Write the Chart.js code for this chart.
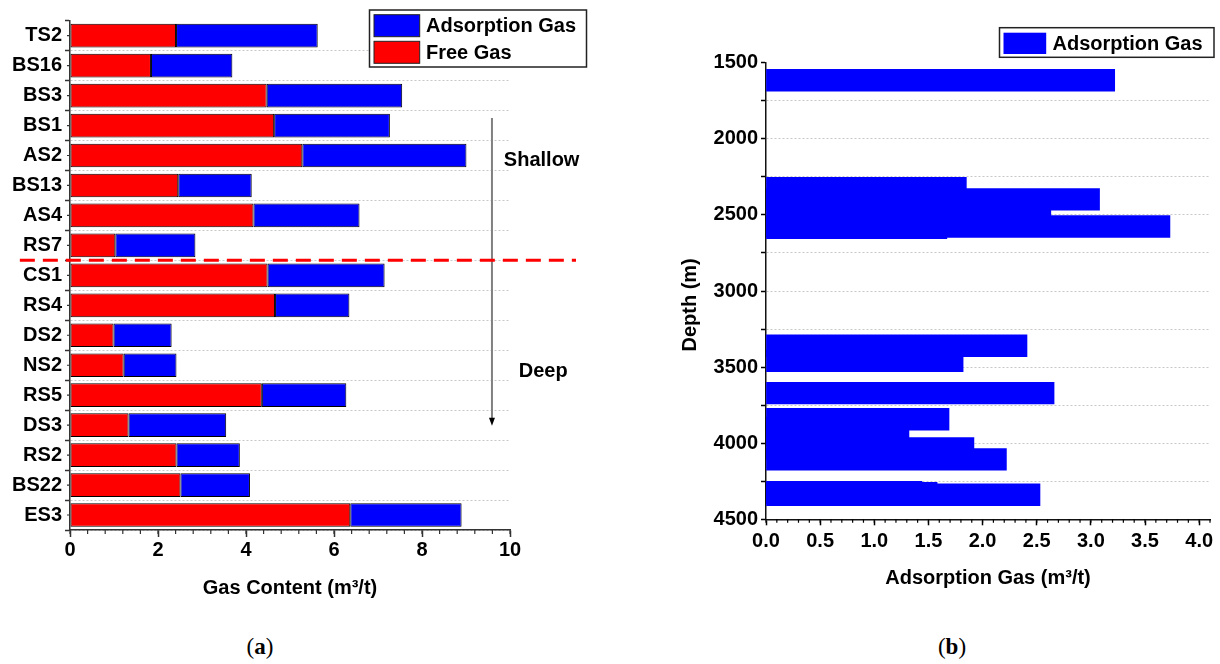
<!DOCTYPE html>
<html><head><meta charset="utf-8">
<script src="https://cdn.jsdelivr.net/npm/chart.js@4"></script>
<style>
html,body{margin:0;padding:0;background:#fff;}
body{width:1220px;height:664px;position:relative;overflow:hidden;}
#wa{position:absolute;left:0;top:0;width:620px;height:620px;}
#wb{position:absolute;left:620px;top:0;width:600px;height:600px;}
.cap{position:absolute;top:633px;line-height:28px;font-family:"Liberation Serif","DejaVu Serif",serif;font-size:23px;color:#000;transform:translateX(-50%);}
</style></head>
<body>
<div id="wa"><canvas id="ca"></canvas></div>
<div id="wb"><canvas id="cb"></canvas></div>
<div class="cap" style="left:260px">(<b>a</b>)</div>
<div class="cap" style="left:952px">(<b>b</b>)</div>
<script>
// ---- data ----
const samples = ['TS2','BS16','BS3','BS1','AS2','BS13','AS4','RS7','CS1','RS4','DS2','NS2','RS5','DS3','RS2','BS22','ES3'];
const freeGas = [2.41,1.84,4.47,4.64,5.28,2.46,4.17,1.03,4.49,4.66,0.99,1.22,4.36,1.33,2.42,2.51,6.37];
const adsorptionGas = [3.22,1.85,3.08,2.63,3.73,1.67,2.41,1.82,2.66,1.69,1.32,1.20,1.92,2.22,1.44,1.58,2.53];
const depths = [1615,2324,2398,2470,2576,2585,3360,3459,3671,3843,3900,3950,4035,4106,4322,4328,4339];
const legendA = ['Adsorption Gas','Free Gas'];
const legendB = ['Adsorption Gas'];
const zoneLabels = ['Shallow','Deep'];

const FONT = '"Liberation Sans", Arial, sans-serif';
Chart.defaults.font.family = FONT;
Chart.defaults.color = '#000';
const RED = '#ff0000', BLUE = '#0000ff';

const minorTicks = {
  id: 'minorTicks',
  afterDraw(chart, args, opts) {
    const ctx = chart.ctx;
    ctx.save();
    ctx.strokeStyle = opts.color || '#000';
    ctx.lineWidth = opts.width || 1;
    ctx.beginPath();
    for (const a of (opts.axes || [])) {
      const s = chart.scales[a.id];
      const pix = [];
      if (a.centers) { s.getLabels().forEach((l, i) => pix.push(s.getPixelForValue(i))); }
      else {
        const n = Math.round((s.max - s.min) / a.step);
        for (let k = 0; k <= n; k++) pix.push(s.getPixelForValue(s.min + k * a.step));
      }
      for (const p of pix) {
        if (s.isHorizontal()) { ctx.moveTo(p, s.top); ctx.lineTo(p, s.top + a.len); }
        else { ctx.moveTo(s.right, p); ctx.lineTo(s.right - a.len, p); }
      }
    }
    ctx.stroke();
    ctx.restore();
  }
};

const boxLegend = {
  id: 'boxLegend',
  afterDraw(chart, args, o) {
    const ctx = chart.ctx;
    ctx.save();
    ctx.fillStyle = '#fff';
    ctx.fillRect(o.x, o.y, o.w, o.h);
    ctx.strokeStyle = '#222'; ctx.lineWidth = 1.5;
    ctx.strokeRect(o.x, o.y, o.w, o.h);
    ctx.font = 'bold 20px ' + FONT;
    ctx.textBaseline = 'middle'; ctx.textAlign = 'left';
    o.items.forEach((it, i) => {
      const sy = o.y + o.sy + i * o.rowH;
      ctx.fillStyle = it.color;
      ctx.fillRect(o.x + o.sx, sy, o.sw, o.sh);
      if (it.border) { ctx.strokeStyle = it.border; ctx.lineWidth = 1; ctx.strokeRect(o.x + o.sx, sy, o.sw, o.sh); }
      ctx.fillStyle = '#000';
      ctx.fillText(it.label, o.x + o.tx, sy + o.sh / 2 + 1);
    });
    ctx.restore();
  }
};

const depthNotes = {
  id: 'depthNotes',
  afterDatasetsDraw(chart) {
    const {ctx, scales: {x, y}} = chart;
    ctx.save();
    // arrow
    const xa = x.getPixelForValue(9.59);
    const y0 = y.getPixelForValue(2.75), y1 = y.getPixelForValue(13.02);
    ctx.strokeStyle = '#808080'; ctx.lineWidth = 2;
    ctx.beginPath(); ctx.moveTo(xa, y0); ctx.lineTo(xa, y1 - 7); ctx.stroke();
    ctx.fillStyle = '#000';
    ctx.beginPath(); ctx.moveTo(xa - 3, y1 - 8); ctx.lineTo(xa + 3, y1 - 8); ctx.lineTo(xa, y1); ctx.closePath(); ctx.fill();
    // shallow/deep boundary
    const yb = y.getPixelForValue(7.5);
    ctx.strokeStyle = RED; ctx.lineWidth = 3; ctx.setLineDash([15, 8]);
    ctx.beginPath(); ctx.moveTo(x.getPixelForValue(-1.14), yb); ctx.lineTo(x.getPixelForValue(11.5), yb); ctx.stroke();
    ctx.setLineDash([]);
    ctx.font = 'bold 20px ' + FONT; ctx.textBaseline = 'middle'; ctx.textAlign = 'left'; ctx.fillStyle = '#000';
    ctx.fillText(zoneLabels[0], x.getPixelForValue(9.86), y.getPixelForValue(4.16));
    ctx.fillText(zoneLabels[1], x.getPixelForValue(10.2), y.getPixelForValue(11.22));
    ctx.restore();
  }
};

const tickFont = {size: 20, weight: 'bold'};

// ---- chart (a) ----
new Chart(document.getElementById('ca'), {
  type: 'bar',
  data: {
    labels: samples,
    datasets: [
      {label: legendA[1], data: freeGas, backgroundColor: RED, borderColor: '#000', borderWidth: 1, borderSkipped: false},
      {label: legendA[0], data: adsorptionGas, backgroundColor: BLUE, borderColor: '#000', borderWidth: 1, borderSkipped: false}
    ]
  },
  options: {
    indexAxis: 'y',
    responsive: true, maintainAspectRatio: false, animation: false,
    layout: {padding: {top: 20.7, right: 110, bottom: 15, left: 0}},
    datasets: {bar: {barPercentage: 0.79, categoryPercentage: 1.0}},
    plugins: {
      legend: {display: false}, tooltip: {enabled: false},
      minorTicks: {color: '#333', width: 1.2, axes: [{id: 'x', step: 0.4, len: 4}, {id: 'y', centers: true, len: 3}]},
      boxLegend: {x: 369.5, y: 10, w: 217, h: 57, sx: 4.5, sy: 4.7, sw: 45.7, sh: 22, rowH: 26.6, tx: 56.5,
        items: [{label: legendA[0], color: BLUE, border: '#222'}, {label: legendA[1], color: RED, border: '#222'}]}
    },
    scales: {
      x: {
        stacked: true, min: 0, max: 10,
        grid: {drawOnChartArea: false, tickLength: 7, tickColor: '#333', tickWidth: 1.5},
        border: {display: true, color: '#333', width: 1.5},
        ticks: {stepSize: 2, font: tickFont, color: '#000', padding: 1},
        title: {display: true, text: 'Gas Content (m³/t)', font: {size: 20, weight: 'bold'}, color: '#000', padding: {top: 0, bottom: 5}},
        afterFit(s) { s.height = 75; }
      },
      y: {
        stacked: true,
        grid: {offset: true, color: c => c.index === 0 ? 'rgba(0,0,0,0)' : '#c8c8c8', lineWidth: 1, tickLength: 5, tickColor: '#333', tickWidth: 1.5},
        border: {display: true, color: '#333', width: 1.5, dash: [2, 2]},
        ticks: {font: tickFont, color: '#000', padding: 3, autoSkip: false},
        afterFit(s) { s.width = 70; }
      }
    }
  },
  plugins: [depthNotes, minorTicks, boxLegend]
});

// ---- chart (b) ----
new Chart(document.getElementById('cb'), {
  type: 'bar',
  data: {
    datasets: [
      {label: legendB[0], data: depths.map((d, i) => ({x: adsorptionGas[i], y: d})), backgroundColor: BLUE, borderWidth: 0, barThickness: 21.7}
    ]
  },
  options: {
    indexAxis: 'y',
    responsive: true, maintainAspectRatio: false, animation: false,
    layout: {padding: {top: 62.7, right: 10, bottom: 5.7, left: 0}},
    plugins: {
      legend: {display: false}, tooltip: {enabled: false},
      minorTicks: {color: '#000', width: 1.2, axes: [{id: 'x', step: 0.1, len: 3.5}]},
      boxLegend: {x: 379.5, y: 27.7, w: 214.5, h: 29.6, sx: 4, sy: 5, sw: 42.7, sh: 21.3, rowH: 26, tx: 53,
        items: [{label: legendB[0], color: BLUE, border: null}]}
    },
    scales: {
      x: {
        type: 'linear', min: 0, max: 4.1, offset: false,
        grid: {offset: false, drawOnChartArea: false, tickLength: 6, tickColor: '#000', tickWidth: 1.5},
        border: {display: true, color: '#111', width: 1.5},
        ticks: {stepSize: 0.5, includeBounds: false, autoSkip: false, font: tickFont, color: '#000', padding: 4,
          callback: v => Math.abs(v * 2 - Math.round(v * 2)) < 1e-6 ? v.toFixed(1) : ''},
        title: {display: true, text: 'Adsorption Gas (m³/t)', font: {size: 20, weight: 'bold'}, color: '#000', padding: {top: 0, bottom: 4.3}},
        afterFit(s) { s.height = 75; }
      },
      y: {
        type: 'linear', reverse: true, min: 1500, max: 4500, offset: false,
        grid: {offset: false, color: c => (c.tick && c.tick.value === 1500) ? 'rgba(0,0,0,0)' : '#c8c8c8', lineWidth: 1, tickLength: 5, tickColor: '#000', tickWidth: 1.5},
        border: {display: true, color: '#111', width: 1.5, dash: [2, 2]},
        ticks: {stepSize: 250, autoSkip: false, font: tickFont, color: '#000', padding: 3,
          callback: v => v % 500 === 0 ? String(v) : ''},
        title: {display: true, text: 'Depth (m)     ', font: {size: 20, weight: 'bold'}, color: '#000', padding: {top: 58, bottom: 0}},
        afterFit(s) { s.width = 146; }
      }
    }
  },
  plugins: [minorTicks, boxLegend]
});
</script>
</body></html>
